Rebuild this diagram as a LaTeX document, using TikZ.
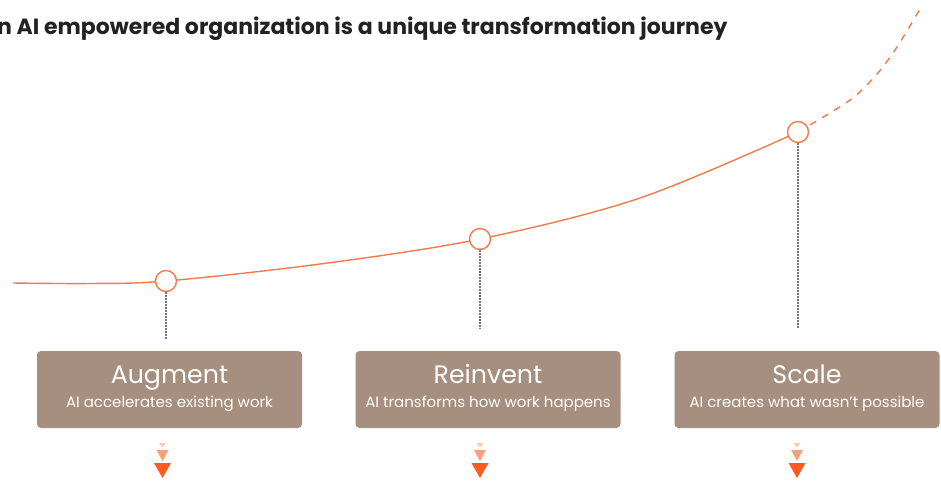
\documentclass[tikz,border=0pt]{standalone}
\usepackage{fontspec}
\setmainfont{Poppins}
\usepackage{tikz}
\usetikzlibrary{calc}
\usetikzlibrary{positioning}
\definecolor{curveorange}{HTML}{F47A4C}
\definecolor{boxbrown}{HTML}{A68F7E}
\definecolor{tipdark}{HTML}{FF5A1F}
\definecolor{tipmid}{HTML}{FF9E78}
\definecolor{tiplight}{HTML}{FFC9B2}
\definecolor{stemgray}{HTML}{777777}
\definecolor{headblack}{HTML}{222222}

\begin{document}
\begin{tikzpicture}[x=1pt,y=-1pt,
journey/.style = {line width=1.4pt, color=curveorange},
milestone/.style = {circle, draw=curveorange, line width=1.4pt, fill=white,
  minimum size=21pt, inner sep=0pt},
stem/.style = {stemgray, line width=1.2pt, dash pattern=on 1.5pt off 1.5pt},
stage/.style = {rectangle, rounded corners=4pt, fill=boxbrown,
  minimum width=265pt, minimum height=77pt},
stagename/.style = {anchor=base, text=white, font=\fontsize{25.3}{29}\selectfont},
stagetext/.style = {anchor=base, text=white, font=\fontsize{15}{18}\selectfont}
]
\useasboundingbox (0,0) rectangle (941,482);

\node [anchor=base east, text=headblack, font=\bfseries\fontsize{22}{26}\selectfont]
  (title) at (731,34) {n AI empowered organization is a unique transformation journey};

% points on the curve
\coordinate (m1) at (166,281);
\coordinate (m2) at (480,239);
\coordinate (m3) at (798,132);
\coordinate (tip) at (920,9);

\draw [journey] plot [smooth, tension=0.55]
  coordinates {(13,283) (90,283.5) (m1) (320,264) (m2) (640,198) (m3)};
\draw [journey, dash pattern=on 7pt off 7pt] plot [smooth, tension=0.55]
  coordinates {(m3) (850,100) (877,74) (897,47) (tip)};

\node [milestone] (c1) at (m1) {};
\node [milestone] (c2) at (m2) {};
\node [milestone] (c3) at (m3) {};

\coordinate (s1) at (166,339);
\coordinate (s2) at (480,329);
\coordinate (s3) at (798,328);
\draw [stem] (c1.south) -- (s1);
\draw [stem] (c2.south) -- (s2);
\draw [stem] (c3.south) -- (s3);

% the three stages
\node [stage] (aug) at (169.5,389.5) {};
\node [stage] (rei) at (488,389.5) {};
\node [stage] (sca) at (807,389.5) {};

\node [stagename] (augname) at ($ (aug.center) + (0,-6.5) $) {Augment};
\node [stagetext] (augtext) at ($ (aug.center) + (0,17.5) $) {AI accelerates existing work};
\node [stagename] (reiname) at ($ (rei.center) + (0,-6.5) $) {Reinvent};
\node [stagetext] (reitext) at ($ (rei.center) + (0,17.5) $) {AI transforms how work happens};
\node [stagename] (scaname) at ($ (sca.center) + (0,-6.5) $) {Scale};
\node [stagetext] (scatext) at ($ (sca.center) + (0,17.5) $) {AI creates what wasn't possible};

% little arrow stacks below
\foreach \x in {162.5,480,797} {
  \fill [tiplight] (\x-3.5,443) -- (\x+3.5,443) -- (\x,447.5) -- cycle;
  \fill [tipmid] (\x-6,450) -- (\x+6,450) -- (\x,461) -- cycle;
  \fill [tipdark] (\x-8.5,463) -- (\x+8.5,463) -- (\x,478) -- cycle;
}

\end{tikzpicture}
\end{document}
